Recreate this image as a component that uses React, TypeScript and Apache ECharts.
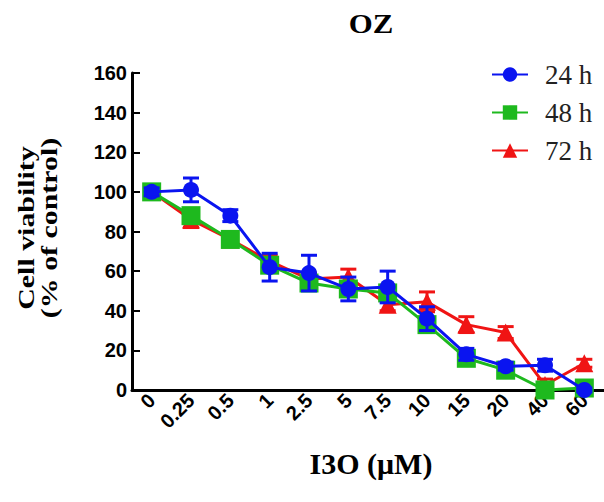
import React, { useEffect, useRef } from "react";
import * as echarts from "echarts";

const concentrations = ["0", "0.25", "0.5", "1", "2.5", "5", "7.5", "10", "15", "20", "40", "60"];
const yTicks = [0, 20, 40, 60, 80, 100, 120, 140, 160];

const h24 = [100, 101, 88, 62, 59, 51, 52, 36, 18, 12, 12.5, 0];
const h24Err = [2, 6, 3, 7, 9, 6, 8, 6, 3, 2, 3, 1];
const h48 = [100, 88, 76, 63, 54, 51, 49, 33, 16, 10, 0, 1];
const h48Err = [2, 3, 3, 3, 3, 3, 3, 3, 2, 2, 2, 1];
const h72 = [100, 86, 76, 65, 56, 57, 43, 44.5, 33, 29, 2.5, 13.5];
const h72Err = [2, 4, 3, 3, 3, 4, 3, 5, 4, 3, 3, 2];

const SERIF = "'Liberation Serif', 'Times New Roman', serif";
const SANS = "'Liberation Sans', Arial, sans-serif";

function errSeries(name: string, vals: number[], errs: number[], color: string, z: number) {
  return {
    type: "custom",
    name,
    z,
    clip: false,
    data: vals.map((v, i) => [i, v, errs[i]]),
    renderItem: (params: any, api: any) => {
      const i = api.value(0);
      const v = api.value(1);
      const e = api.value(2);
      const top = api.coord([i, v + e]);
      const bot = api.coord([i, v - e]);
      const hw = 8;
      const style = { stroke: color, lineWidth: 3 };
      return {
        type: "group",
        children: [
          { type: "line", shape: { x1: top[0], y1: top[1], x2: bot[0], y2: bot[1] }, style },
          { type: "line", shape: { x1: top[0] - hw, y1: top[1], x2: top[0] + hw, y2: top[1] }, style },
          { type: "line", shape: { x1: bot[0] - hw, y1: bot[1], x2: bot[0] + hw, y2: bot[1] }, style },
        ],
      };
    },
  };
}

function lineSeries(name: string, vals: number[], color: string, symbol: string, size: number, z: number) {
  return {
    type: "line",
    name,
    z,
    data: vals,
    clip: false,
    symbol,
    symbolSize: size,
    showAllSymbol: true,
    lineStyle: { color, width: 3 },
    itemStyle: { color, borderWidth: 0 },
  };
}

export default function App() {
  const ref = useRef<HTMLDivElement>(null);
  useEffect(() => {
    if (!ref.current) return;
    const chart = echarts.init(ref.current, null, { renderer: "svg" });
    const blue = "#0a14f0";
    const green = "#1eb91e";
    const red = "#f01414";
    chart.setOption({
      animation: false,
      backgroundColor: "#ffffff",
      grid: { left: 132, top: 73, bottom: 112, width: 478 },
      legend: {
        orient: "vertical",
        left: 486,
        top: 56,
        itemWidth: 36,
        itemHeight: 18,
        itemGap: 11,
        data: ["24 h", "48 h", "72 h"],
        textStyle: {
          fontFamily: SERIF,
          fontSize: 27,
          lineHeight: 22,
          color: "#222",
          padding: [0, 0, 0, 12],
        },
      },
      xAxis: {
        type: "category",
        data: concentrations,
        boundaryGap: true,
        axisLine: { lineStyle: { color: "#000", width: 3 } },
        axisTick: { inside: true, alignWithLabel: true, length: 8, lineStyle: { color: "#000", width: 2 } },
        axisLabel: {
          rotate: 45,
          margin: 7,
          interval: 0,
          color: "#000",
          fontFamily: SANS,
          fontWeight: "bold",
          fontSize: 20,
        },
      },
      yAxis: {
        type: "value",
        min: yTicks[0],
        max: yTicks[yTicks.length - 1],
        interval: 20,
        splitLine: { show: false },
        axisLine: { show: true, lineStyle: { color: "#000", width: 3 } },
        axisTick: { show: true, inside: true, length: 8, lineStyle: { color: "#000", width: 2 } },
        axisLabel: {
          margin: 5,
          color: "#000",
          fontFamily: SANS,
          fontWeight: "bold",
          fontSize: 20,
        },
      },
      graphic: [
        {
          type: "text",
          x: 371,
          y: 23,
          scaleX: 1.1,
          style: {
            text: "OZ",
            fontFamily: SERIF,
            fontWeight: "bold",
            fontSize: 28,
            fill: "#000",
            align: "center",
            verticalAlign: "middle",
          },
        },
        {
          type: "text",
          x: 38,
          y: 228,
          rotation: Math.PI / 2,
          scaleX: 1.3,
          style: {
            text: "Cell viability\n(% of control)",
            fontFamily: SERIF,
            fontWeight: "bold",
            fontSize: 23,
            lineHeight: 23,
            fill: "#000",
            align: "center",
            verticalAlign: "middle",
          },
        },
        {
          type: "text",
          x: 371,
          y: 463,
          style: {
            text: "I3O (μM)",
            fontFamily: SERIF,
            fontWeight: "bold",
            fontSize: 30,
            fill: "#000",
            align: "center",
            verticalAlign: "middle",
          },
        },
      ],
      series: [
        errSeries("72 h err", h72, h72Err, red, 2),
        lineSeries("72 h", h72, red, "triangle", 18, 2),
        errSeries("48 h err", h48, h48Err, green, 3),
        lineSeries("48 h", h48, green, "rect", 19, 3),
        errSeries("24 h err", h24, h24Err, blue, 4),
        lineSeries("24 h", h24, blue, "circle", 16, 4),
      ],
    });
    return () => chart.dispose();
  }, []);
  return <div ref={ref} style={{ width: 604, height: 502, position: "fixed", left: 0, top: 0 }} />;
}
